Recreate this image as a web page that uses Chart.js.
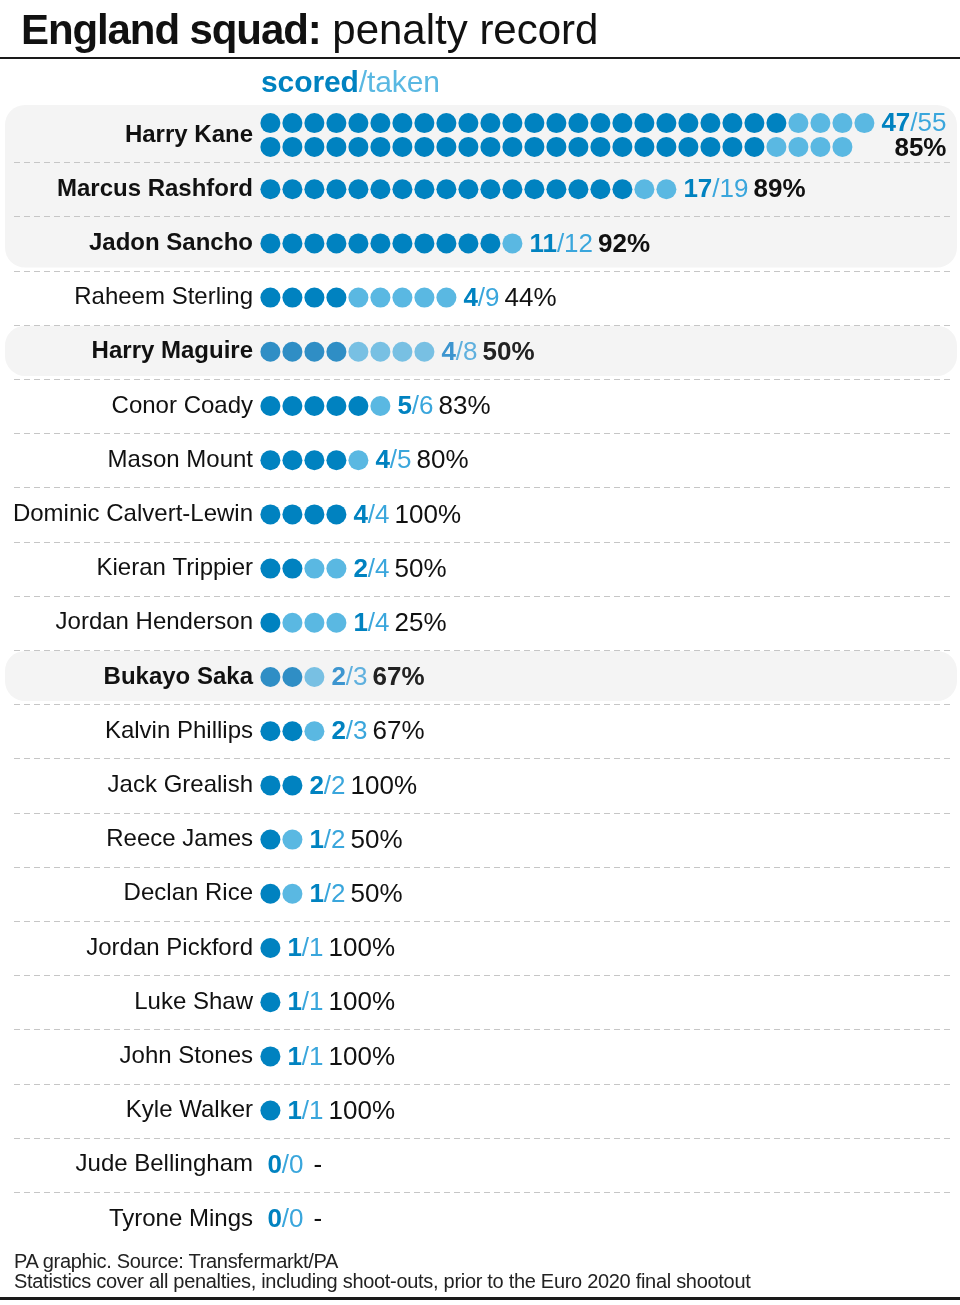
<!DOCTYPE html>
<html>
<head>
<meta charset="utf-8">
<title>England squad: penalty record</title>
<script src="https://cdn.jsdelivr.net/npm/chart.js@4.4.1/dist/chart.umd.min.js"></script>
<style>
  body { margin: 0; background: #fff; }
  #page { position: relative; width: 960px; height: 1305px; overflow: hidden;
          font-family: "Liberation Sans", Arial, sans-serif; color: #111; }
  #chart { position: absolute; left: 0; top: 0; }
  .title { position: absolute; left: 21px; top: 9px; font-size: 42px; line-height: 42px;
           letter-spacing: 0px; white-space: nowrap; }
  .title b { letter-spacing: -1.1px; }
  .rule { position: absolute; left: 0; width: 960px; background: #1a1a1a; }
  .head { position: absolute; left: 261px; top: 67px; font-size: 30px; line-height: 30px;
          letter-spacing: -0.1px; color: #5ab8e2; white-space: nowrap; }
  .head b { color: #0082c0; }
  .foot { position: absolute; left: 14px; top: 1251px; font-size: 20px; line-height: 20px;
          letter-spacing: -0.3px; color: #222; white-space: nowrap; }
</style>
</head>
<body>
<div id="page">
  <canvas id="chart" width="960" height="1305"></canvas>
  <div class="title"><b>England squad:</b> penalty record</div>
  <div class="rule" style="top:57px;height:2px"></div>
  <div class="head"><b>scored</b>/taken</div>
  <div class="foot">PA graphic. Source: Transfermarkt/PA<br>Statistics cover all penalties, including shoot-outs, prior to the Euro 2020 final shootout</div>
  <div class="rule" style="top:1297px;height:3px"></div>
</div>
<script>
var FONT = '"Liberation Sans", Arial, sans-serif';

var names = ['Harry Kane', 'Marcus Rashford', 'Jadon Sancho', 'Raheem Sterling', 'Harry Maguire',
    'Conor Coady', 'Mason Mount', 'Dominic Calvert-Lewin', 'Kieran Trippier', 'Jordan Henderson',
    'Bukayo Saka', 'Kalvin Phillips', 'Jack Grealish', 'Reece James', 'Declan Rice',
    'Jordan Pickford', 'Luke Shaw', 'John Stones', 'Kyle Walker', 'Jude Bellingham', 'Tyrone Mings'];
var scored = [47, 17, 11, 4, 4, 5, 4, 4, 2, 1, 2, 2, 2, 1, 1, 1, 1, 1, 1, 0, 0];
var taken  = [55, 19, 12, 9, 8, 6, 5, 4, 4, 4, 3, 3, 2, 2, 2, 1, 1, 1, 1, 0, 0];

// the five who took a penalty in the final shootout
var shootoutNames = ['Harry Kane', 'Marcus Rashford', 'Jadon Sancho', 'Harry Maguire', 'Bukayo Saka'];
var fadedNames = ['Harry Maguire', 'Bukayo Saka'];
var dotsPerLine = 28;

var COLORS = {
    scored: '#0082c0',
    missed: '#5ab8e2',
    scoredFaded: '#2f8ec5',
    missedFaded: '#78c0e3',
    text: '#111',
    band: '#f4f4f4',
    dash: '#c6c6c6'
};
var LINE_GAP = 0.44;   // vertical gap between wrapped dot lines, in rows

function isBold(i) { return shootoutNames.indexOf(names[i]) >= 0; }
function isFaded(i) { return fadedNames.indexOf(names[i]) >= 0; }

// split a player's penalties into lines of at most dotsPerLine dots
function lineSplit(i) {
    var n = Math.max(1, Math.ceil(taken[i] / dotsPerLine));
    var s = scored[i], t = taken[i];
    var lines = [];
    for (var k = 0; k < n; k++) {
        var lt = Math.ceil(t / (n - k));
        var ls = Math.ceil(s / (n - k));
        lines.push({scored: ls, taken: lt, y: i + (k - (n - 1) / 2) * LINE_GAP});
        t -= lt;
        s -= ls;
    }
    return lines;
}

var scoredPts = [], missedPts = [];
names.forEach(function(name, i) {
    lineSplit(i).forEach(function(line) {
        for (var j = 0; j < line.taken; j++) {
            var p = {x: j, y: line.y, row: i};
            (j < line.scored ? scoredPts : missedPts).push(p);
        }
    });
});

function dotColor(kind) {
    return function(c) {
        var faded = c.raw && isFaded(c.raw.row);
        return faded ? COLORS[kind + 'Faded'] : COLORS[kind];
    };
}

function roundRect(ctx, x, y, w, h, r) {
    ctx.beginPath();
    ctx.moveTo(x + r, y);
    ctx.arcTo(x + w, y, x + w, y + h, r);
    ctx.arcTo(x + w, y + h, x, y + h, r);
    ctx.arcTo(x, y + h, x, y, r);
    ctx.arcTo(x, y, x + w, y, r);
    ctx.closePath();
}

var rowDecor = {
    id: 'rowDecor',
    beforeDraw: function(chart) {
        var ctx = chart.ctx, ys = chart.scales.y;
        ctx.save();
        // grey bands behind the shootout takers
        var i = 0;
        while (i < names.length) {
            if (!isBold(i)) { i++; continue; }
            var start = i;
            while (i + 1 < names.length && isBold(i + 1)) i++;
            var top = ys.getPixelForValue(start - 0.5) - (start === 0 ? 3 : -1);
            var bottom = ys.getPixelForValue(i + 0.5) - 3;
            ctx.fillStyle = COLORS.band;
            roundRect(ctx, 5, top, 952, bottom - top, 20);
            ctx.fill();
            i++;
        }
        // dashed separators
        ctx.strokeStyle = COLORS.dash;
        ctx.lineWidth = 1;
        ctx.setLineDash([6, 4]);
        for (var r = 0; r < names.length - 1; r++) {
            var y = Math.round(ys.getPixelForValue(r + 0.5)) + 0.5;
            ctx.beginPath();
            ctx.moveTo(14, y);
            ctx.lineTo(950, y);
            ctx.stroke();
        }
        ctx.restore();
    },
    afterDatasetsDraw: function(chart) {
        var ctx = chart.ctx, xs = chart.scales.x, ys = chart.scales.y;
        ctx.save();
        ctx.textBaseline = 'middle';
        ctx.textAlign = 'left';
        names.forEach(function(name, i) {
            var lines = lineSplit(i);
            var first = lines[0];
            var x = first.taken > 0 ? xs.getPixelForValue(first.taken - 1) + 17 : xs.getPixelForValue(0) - 3;
            var y = ys.getPixelForValue(first.y) + 1;
            var faded = isFaded(i);

            ctx.font = 'bold 26px ' + FONT;
            ctx.fillStyle = faded ? '#3d95cf' : COLORS.scored;
            var num = String(scored[i]);
            ctx.fillText(num, x, y);
            x += ctx.measureText(num).width;

            ctx.font = '26px ' + FONT;
            ctx.fillStyle = faded ? '#5fb0de' : '#3aa6dc';
            var den = '/' + taken[i];
            ctx.fillText(den, x, y);
            x += ctx.measureText(den).width;

            var pct = taken[i] > 0 ? Math.round(scored[i] / taken[i] * 100) + '%' : '-';
            ctx.font = (isBold(i) ? 'bold ' : '') + '26px ' + FONT;
            ctx.fillStyle = faded ? '#222' : COLORS.text;
            if (lines.length > 1) {
                ctx.textAlign = 'right';
                ctx.fillText(pct, x, ys.getPixelForValue(lines[lines.length - 1].y) + 2);
                ctx.textAlign = 'left';
            } else {
                ctx.fillText(pct, x + (taken[i] > 0 ? 5 : 10), y);
            }
        });
        ctx.restore();
    }
};

new Chart(document.getElementById('chart'), {
    type: 'scatter',
    data: {
        datasets: [
            {label: 'scored', data: scoredPts, pointRadius: 10, pointBorderWidth: 0,
             pointBackgroundColor: dotColor('scored'), pointHoverRadius: 10},
            {label: 'missed', data: missedPts, pointRadius: 10, pointBorderWidth: 0,
             pointBackgroundColor: dotColor('missed'), pointHoverRadius: 10}
        ]
    },
    options: {
        responsive: false,
        devicePixelRatio: 1,
        animation: false,
        events: [],
        layout: {autoPadding: false, padding: {left: 5, right: 0, top: 107.9, bottom: 58.9}},
        plugins: {legend: {display: false}, tooltip: {enabled: false}},
        scales: {
            x: {type: 'linear', min: -0.7, max: 31.345, display: false},
            y: {
                type: 'linear',
                reverse: true,
                min: -0.5,
                max: 20.5,
                grid: {display: false, drawTicks: false},
                border: {display: false},
                afterBuildTicks: function(scale) {
                    scale.ticks = names.map(function(n, i) { return {value: i}; });
                },
                afterFit: function(scale) { scale.width = 250; },
                ticks: {
                    padding: 2,
                    color: COLORS.text,
                    font: function(c) {
                        var i = c.tick ? c.tick.value : c.index;
                        return {family: FONT, size: 24, weight: isBold(i) ? 'bold' : 'normal'};
                    },
                    callback: function(v) { return names[v]; }
                }
            }
        }
    },
    plugins: [rowDecor]
});
</script>
</body>
</html>
